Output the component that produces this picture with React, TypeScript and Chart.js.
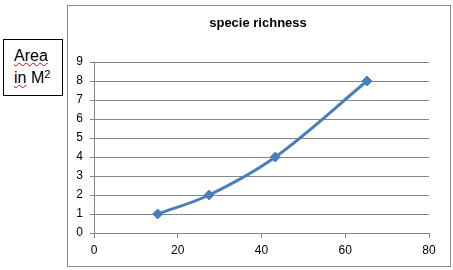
import React, { useEffect, useRef } from "react";
import { Chart, registerables } from "chart.js";

Chart.register(...registerables);

const xValues = [15.2, 27.5, 43.3, 65.2];
const yValues = [1, 2, 4, 8];
const chartTitle = "specie richness";
const boxLine1 = "Area";
const boxLine2 = "in";

const titlePlugin = {
  id: "customTitle",
  afterDraw(chart: any) {
    const ctx = chart.ctx;
    ctx.save();
    ctx.font = "bold 13px 'Liberation Sans', Arial, sans-serif";
    ctx.fillStyle = "#000";
    ctx.textAlign = "center";
    ctx.textBaseline = "middle";
    ctx.fillText(chartTitle, 190, 17);
    ctx.restore();
  },
};

export default function App() {
  const ref = useRef<HTMLCanvasElement | null>(null);
  useEffect(() => {
    if (!ref.current) return;
    const grey = "#868686";
    const font = { family: "'Liberation Sans', Arial, sans-serif", size: 12 };
    const chart = new Chart(ref.current, {
      type: "scatter",
      data: {
        datasets: [
          {
            data: xValues.map((x, i) => ({ x, y: yValues[i] })),
            showLine: true,
            tension: 0.35,
            borderColor: "#4A7EBB",
            backgroundColor: "#4A7EBB",
            borderWidth: 3,
            pointStyle: "rectRot",
            pointRadius: 5,
            pointBorderWidth: 1,
          },
        ],
      },
      options: {
        animation: false,
        responsive: false,
        devicePixelRatio: 1,
        layout: { padding: { top: 56, right: 21, left: 0, bottom: 0 } },
        plugins: { legend: { display: false }, title: { display: false }, tooltip: { enabled: false } },
        scales: {
          x: {
            type: "linear",
            min: 0,
            max: 80,
            ticks: { stepSize: 20, color: "#000", font, padding: 5 },
            grid: { drawOnChartArea: false, drawTicks: true, tickLength: 5, color: grey },
            border: { display: true, color: grey },
            afterFit: (s: any) => {
              s.height = 33;
            },
          },
          y: {
            type: "linear",
            min: 0,
            max: 9,
            ticks: { stepSize: 1, color: "#000", font, padding: 7 },
            grid: { drawOnChartArea: true, drawTicks: true, tickLength: 4, color: grey },
            border: { display: true, color: grey },
            afterFit: (s: any) => {
              s.width = 26;
            },
          },
        },
      },
      plugins: [titlePlugin],
    });
    return () => chart.destroy();
  }, []);

  const squiggle: React.CSSProperties = {
    textDecorationLine: "underline",
    textDecorationStyle: "wavy",
    textDecorationColor: "#e00",
    textDecorationThickness: "1px",
  };

  return (
    <div style={{ position: "fixed", left: 0, top: 0, width: 453, height: 270, background: "#fff" }}>
      <div
        style={{
          position: "absolute",
          left: 3,
          top: 39,
          width: 60,
          height: 57,
          border: "1px solid #000",
          fontFamily: "'Liberation Sans', Arial, sans-serif",
          fontSize: 16,
          lineHeight: "19px",
          color: "#000",
          paddingTop: 6,
          paddingLeft: 10,
          boxSizing: "border-box",
        }}
      >
        <div>
          <span style={squiggle}>{boxLine1}</span>
        </div>
        <div>
          <span style={squiggle}>{boxLine2}</span> M<span style={{ fontSize: 11, verticalAlign: "5px" }}>2</span>
        </div>
      </div>
      <div
        style={{
          position: "absolute",
          left: 67,
          top: 5,
          width: 382,
          height: 260,
          border: "1px solid #888",
        }}
      >
        <canvas ref={ref} width={382} height={260} style={{ display: "block" }} />
      </div>
    </div>
  );
}
